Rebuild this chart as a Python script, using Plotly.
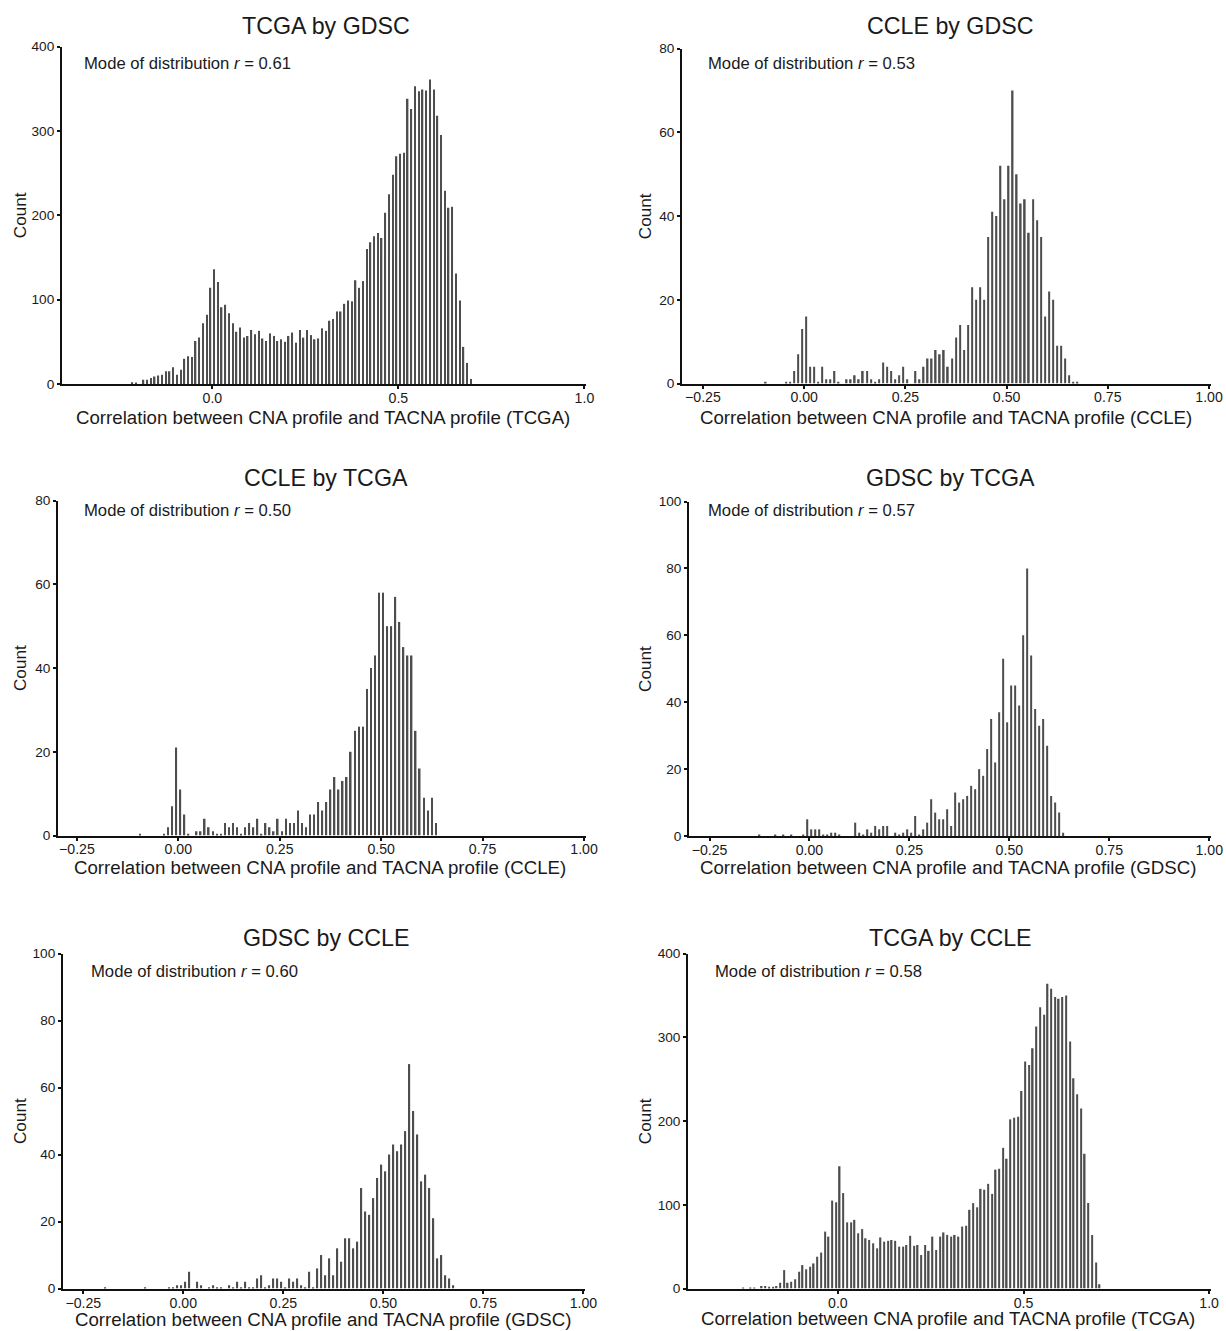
import numpy as np
import plotly.graph_objects as go

W, H = 1226, 1331
FONT = "Liberation Sans, Arial, Helvetica, sans-serif"
BIN_WIDTH = 0.01

# ---------------- data (counts per 0.01 bin, starting at first bin centre) ----------------
titles = ["TCGA by GDSC", "CCLE by GDSC", "CCLE by TCGA", "GDSC by TCGA", "GDSC by CCLE", "TCGA by CCLE"]
modes = ["0.61", "0.53", "0.50", "0.57", "0.60", "0.58"]
xlabels = ["TCGA", "CCLE", "CCLE", "GDSC", "GDSC", "TCGA"]

tcga_gdsc_start = -0.215
tcga_gdsc_counts = [2, 1, 0, 5, 5, 7, 9, 10, 11, 15, 15, 20, 11, 17, 30, 33, 32, 51, 55, 72, 82, 114,
                    136, 121, 91, 94, 84, 72, 62, 67, 55, 57, 64, 59, 63, 54, 51, 60, 57, 51, 53, 50,
                    57, 61, 49, 64, 55, 64, 58, 53, 54, 66, 63, 75, 77, 86,
                    86, 95, 99, 98, 123, 114, 122, 160, 168, 175, 179, 173, 203, 225, 248, 270, 273, 274,
                    338, 326, 353, 347, 349, 348, 361, 349, 318, 295, 229, 209, 210, 131, 99, 44, 25, 6]

ccle_gdsc_start = -0.095
ccle_gdsc_counts = [0.4, 0, 0, 0, 0, 0.4, 0.4, 3, 7, 13,
                    16, 4, 4, 0.4, 4, 1, 1, 3, 0.4, 0,
                    1, 1, 2, 1, 3, 3, 1, 0.4, 1, 5,
                    4, 3, 1, 2, 4, 1, 0, 3, 1, 4,
                    6, 6, 8, 7, 8, 4, 6, 11, 14, 8,
                    14, 23, 20, 23, 20, 35, 41, 40, 52, 44,
                    52, 70, 50, 43, 44, 36, 44, 39, 35, 16,
                    22, 20, 9, 9, 6, 2, 0.4, 0.4]

ccle_tcga_start = -0.095
ccle_tcga_counts = [0.4, 0, 0, 0, 0, 0, 0.4, 2, 7, 21,
                    11, 5, 0.4, 0, 1, 1, 4, 2, 1, 0.4,
                    0.4, 3, 2, 3, 2, 0.4, 2, 3, 2, 4,
                    0.4, 3, 2, 1, 4, 1, 4, 3, 3, 6,
                    3, 2, 5, 5, 8, 6, 8, 11, 14, 11,
                    13, 14, 20, 25, 26, 26, 35, 40, 43, 58,
                    58, 50, 50, 57, 51, 45, 43, 43, 25, 16,
                    9, 6, 9, 3]

gdsc_tcga_start = -0.125
gdsc_tcga_counts = [0.4, 0, 0, 0, 0.4, 0, 0.4, 0, 0.4, 0, 0, 0.4, 5,
                    2, 2, 2, 0.4, 0.4, 1, 1, 0.4, 0, 0,
                    0, 4, 1, 0.4, 2, 1, 3, 2, 3, 3,
                    0, 1, 0.4, 1, 2, 1, 6, 0.4, 2, 4,
                    11, 7, 5, 5, 8, 3, 13, 10, 11, 12,
                    15, 14, 20, 18, 26, 35, 22, 37, 53, 34,
                    45, 45, 39, 60, 80, 54, 38, 33, 35, 27,
                    12, 10, 7, 1]

gdsc_ccle_start = -0.195
gdsc_ccle_counts = [0.4, 0, 0, 0, 0, 0, 0, 0, 0, 0, 0.4, 0, 0, 0, 0, 0, 0.4, 0.4, 1, 1,
                    2, 5, 0, 2, 1, 0, 0.4, 1, 0.4, 0.4,
                    0, 1, 0.4, 2, 0.4, 2, 0.4, 0.4, 3, 4,
                    0.4, 1, 3, 3, 2, 0.4, 3, 2, 3, 1,
                    0.4, 5, 0.4, 6, 10, 4, 9, 4, 12, 8,
                    15, 15, 12, 14, 30, 23, 22, 27, 33, 37,
                    35, 40, 43, 41, 43, 47, 67, 53, 46, 32,
                    34, 30, 21, 9, 10, 4, 3, 1]

tcga_ccle_start = -0.255
tcga_ccle_counts = [1, 0, 1, 1, 0, 3, 3, 2, 2, 3, 7, 22, 7, 8, 11, 20, 28, 23, 26, 30, 38, 43, 68, 62, 105, 103,
                    146, 114, 79, 79, 82, 66, 71, 60, 58, 54,
                    48, 61, 56, 57, 58, 57, 50, 50, 52, 63,
                    51, 52, 40, 52, 45, 62, 46, 62, 67, 64,
                    62, 64, 62, 74, 75, 94, 102, 97, 119, 118,
                    125, 113, 142, 143, 168, 155, 202, 204, 205, 236,
                    271, 267, 287, 313, 336, 327, 364, 358, 348, 346,
                    348, 350, 295, 251, 232, 215, 161, 102, 64, 31, 5]

starts = [tcga_gdsc_start, ccle_gdsc_start, ccle_tcga_start, gdsc_tcga_start, gdsc_ccle_start, tcga_ccle_start]
counts = [tcga_gdsc_counts, ccle_gdsc_counts, ccle_tcga_counts, gdsc_tcga_counts, gdsc_ccle_counts, tcga_ccle_counts]

wide_ticks = [0.0, 0.5, 1.0]
wide_ticktext = ["0.0", "0.5", "1.0"]
narrow_ticks = [-0.25, 0.0, 0.25, 0.5, 0.75, 1.0]
narrow_ticktext = ["\u22120.25", "0.00", "0.25", "0.50", "0.75", "1.00"]
y_ticks_400 = [0, 100, 200, 300, 400]
y_ticks_80 = [0, 20, 40, 60, 80]
y_ticks_100 = [0, 20, 40, 60, 80, 100]

# ---------------- layout geometry (pixels as seen in the target picture) ----------------
# the rendered page is photographed with a small uniform rescale; compensate
SX = 0.990
SY = 0.9887
OY = 6.5


def PX(x):
    return x / SX


def PY(y):
    return (y - OY) / SY


FS = 1.0 / SX  # font compensation

geom = [
    dict(left=62, zero=212.3, one=584.3, top=46, bottom=383.5, ymax=400, xt=(wide_ticks, wide_ticktext), yt=y_ticks_400),
    dict(left=682, zero=804.0, one=1208.8, top=48, bottom=383.0, ymax=80, xt=(narrow_ticks, narrow_ticktext), yt=y_ticks_80),
    dict(left=58, zero=178.3, one=583.9, top=500, bottom=835.0, ymax=80, xt=(narrow_ticks, narrow_ticktext), yt=y_ticks_80),
    dict(left=689, zero=809.3, one=1209.0, top=501, bottom=835.5, ymax=100, xt=(narrow_ticks, narrow_ticktext), yt=y_ticks_100),
    dict(left=63, zero=183.3, one=583.3, top=953, bottom=1288.0, ymax=100, xt=(narrow_ticks, narrow_ticktext), yt=y_ticks_100),
    dict(left=688, zero=837.7, one=1208.9, top=953, bottom=1288.0, ymax=400, xt=(wide_ticks, wide_ticktext), yt=y_ticks_400),
]
title_pos = [(326, 25), (950, 25), (326, 477), (950, 477), (326, 937), (950, 937)]
mode_pos = [(82, 63), (706, 63), (82, 510), (706, 510), (89, 971), (713, 971)]
xtitle_pos = [(323, 417), (946, 417), (320, 867), (948, 867), (323, 1319), (948, 1318)]
ytitle_x = [20, 645, 20, 645, 20, 645]

fig = go.Figure()
layout = dict(
    width=W, height=H, margin=dict(l=0, r=0, t=0, b=0),
    paper_bgcolor="white", plot_bgcolor="white", showlegend=False,
    font=dict(family=FONT, color="#1a1a1a"),
)
annotations = []

for i in range(6):
    g = geom[i]
    n = len(counts[i])
    centers = starts[i] + BIN_WIDTH * np.arange(n)
    ax = "" if i == 0 else str(i + 1)
    fig.add_trace(go.Bar(
        x=centers, y=counts[i], width=0.0038,
        marker=dict(color="#4d4d4d", line=dict(width=0)),
        xaxis="x" + ax, yaxis="y" + ax, hoverinfo="x+y",
    ))
    left, zero, one = PX(g["left"]), PX(g["zero"]), PX(g["one"])
    scale = one - zero
    xmin = (left - zero) / scale
    xmax = 1.0 + 0.004
    right = zero + xmax * scale
    top, bottom = PY(g["top"]), PY(g["bottom"])
    layout["xaxis" + ax] = dict(
        domain=[left / W, right / W], range=[xmin, xmax], anchor="y" + ax,
        showline=True, linecolor="#111", linewidth=2, showgrid=False, zeroline=False,
        ticks="outside", ticklen=3, tickwidth=1.5, tickcolor="#111",
        tickvals=g["xt"][0], ticktext=g["xt"][1], ticklabelstandoff=-3,
        tickfont=dict(size=14 * FS, family=FONT, color="#1a1a1a"),
    )
    layout["yaxis" + ax] = dict(
        domain=[1 - bottom / H, 1 - top / H], range=[0, g["ymax"]], anchor="x" + ax,
        showline=True, linecolor="#111", linewidth=2, showgrid=False, zeroline=False,
        ticks="outside", ticklen=3, tickwidth=1.5, tickcolor="#111",
        tickvals=g["yt"], tickfont=dict(size=13.5 * FS, family=FONT, color="#1a1a1a"),
    )
    tx, ty = title_pos[i]
    annotations.append(dict(text=titles[i], x=PX(tx) / W, y=1 - PY(ty) / H, xref="paper", yref="paper",
                            showarrow=False, xanchor="center", yanchor="middle",
                            font=dict(size=23 * FS, family=FONT, color="#1a1a1a")))
    mx, my = mode_pos[i]
    annotations.append(dict(text="Mode of distribution <i>r</i> = " + modes[i], x=PX(mx) / W, y=1 - PY(my) / H,
                            xref="paper", yref="paper", showarrow=False, xanchor="left", yanchor="middle",
                            font=dict(size=16.5 * FS, family=FONT, color="#1a1a1a")))
    xx, xy = xtitle_pos[i]
    annotations.append(dict(text="Correlation between CNA profile and TACNA profile (" + xlabels[i] + ")",
                            x=PX(xx) / W, y=1 - PY(xy) / H, xref="paper", yref="paper", showarrow=False,
                            xanchor="center", yanchor="middle",
                            font=dict(size=18.5 * FS, family=FONT, color="#1a1a1a")))
    cy = (g["top"] + g["bottom"]) / 2
    annotations.append(dict(text="Count", x=PX(ytitle_x[i]) / W, y=1 - PY(cy) / H, xref="paper", yref="paper",
                            showarrow=False, textangle=-90, xanchor="center", yanchor="middle",
                            font=dict(size=17 * FS, family=FONT, color="#1a1a1a")))

layout["annotations"] = annotations
fig.update_layout(**layout)
fig.write_html("out.html")
